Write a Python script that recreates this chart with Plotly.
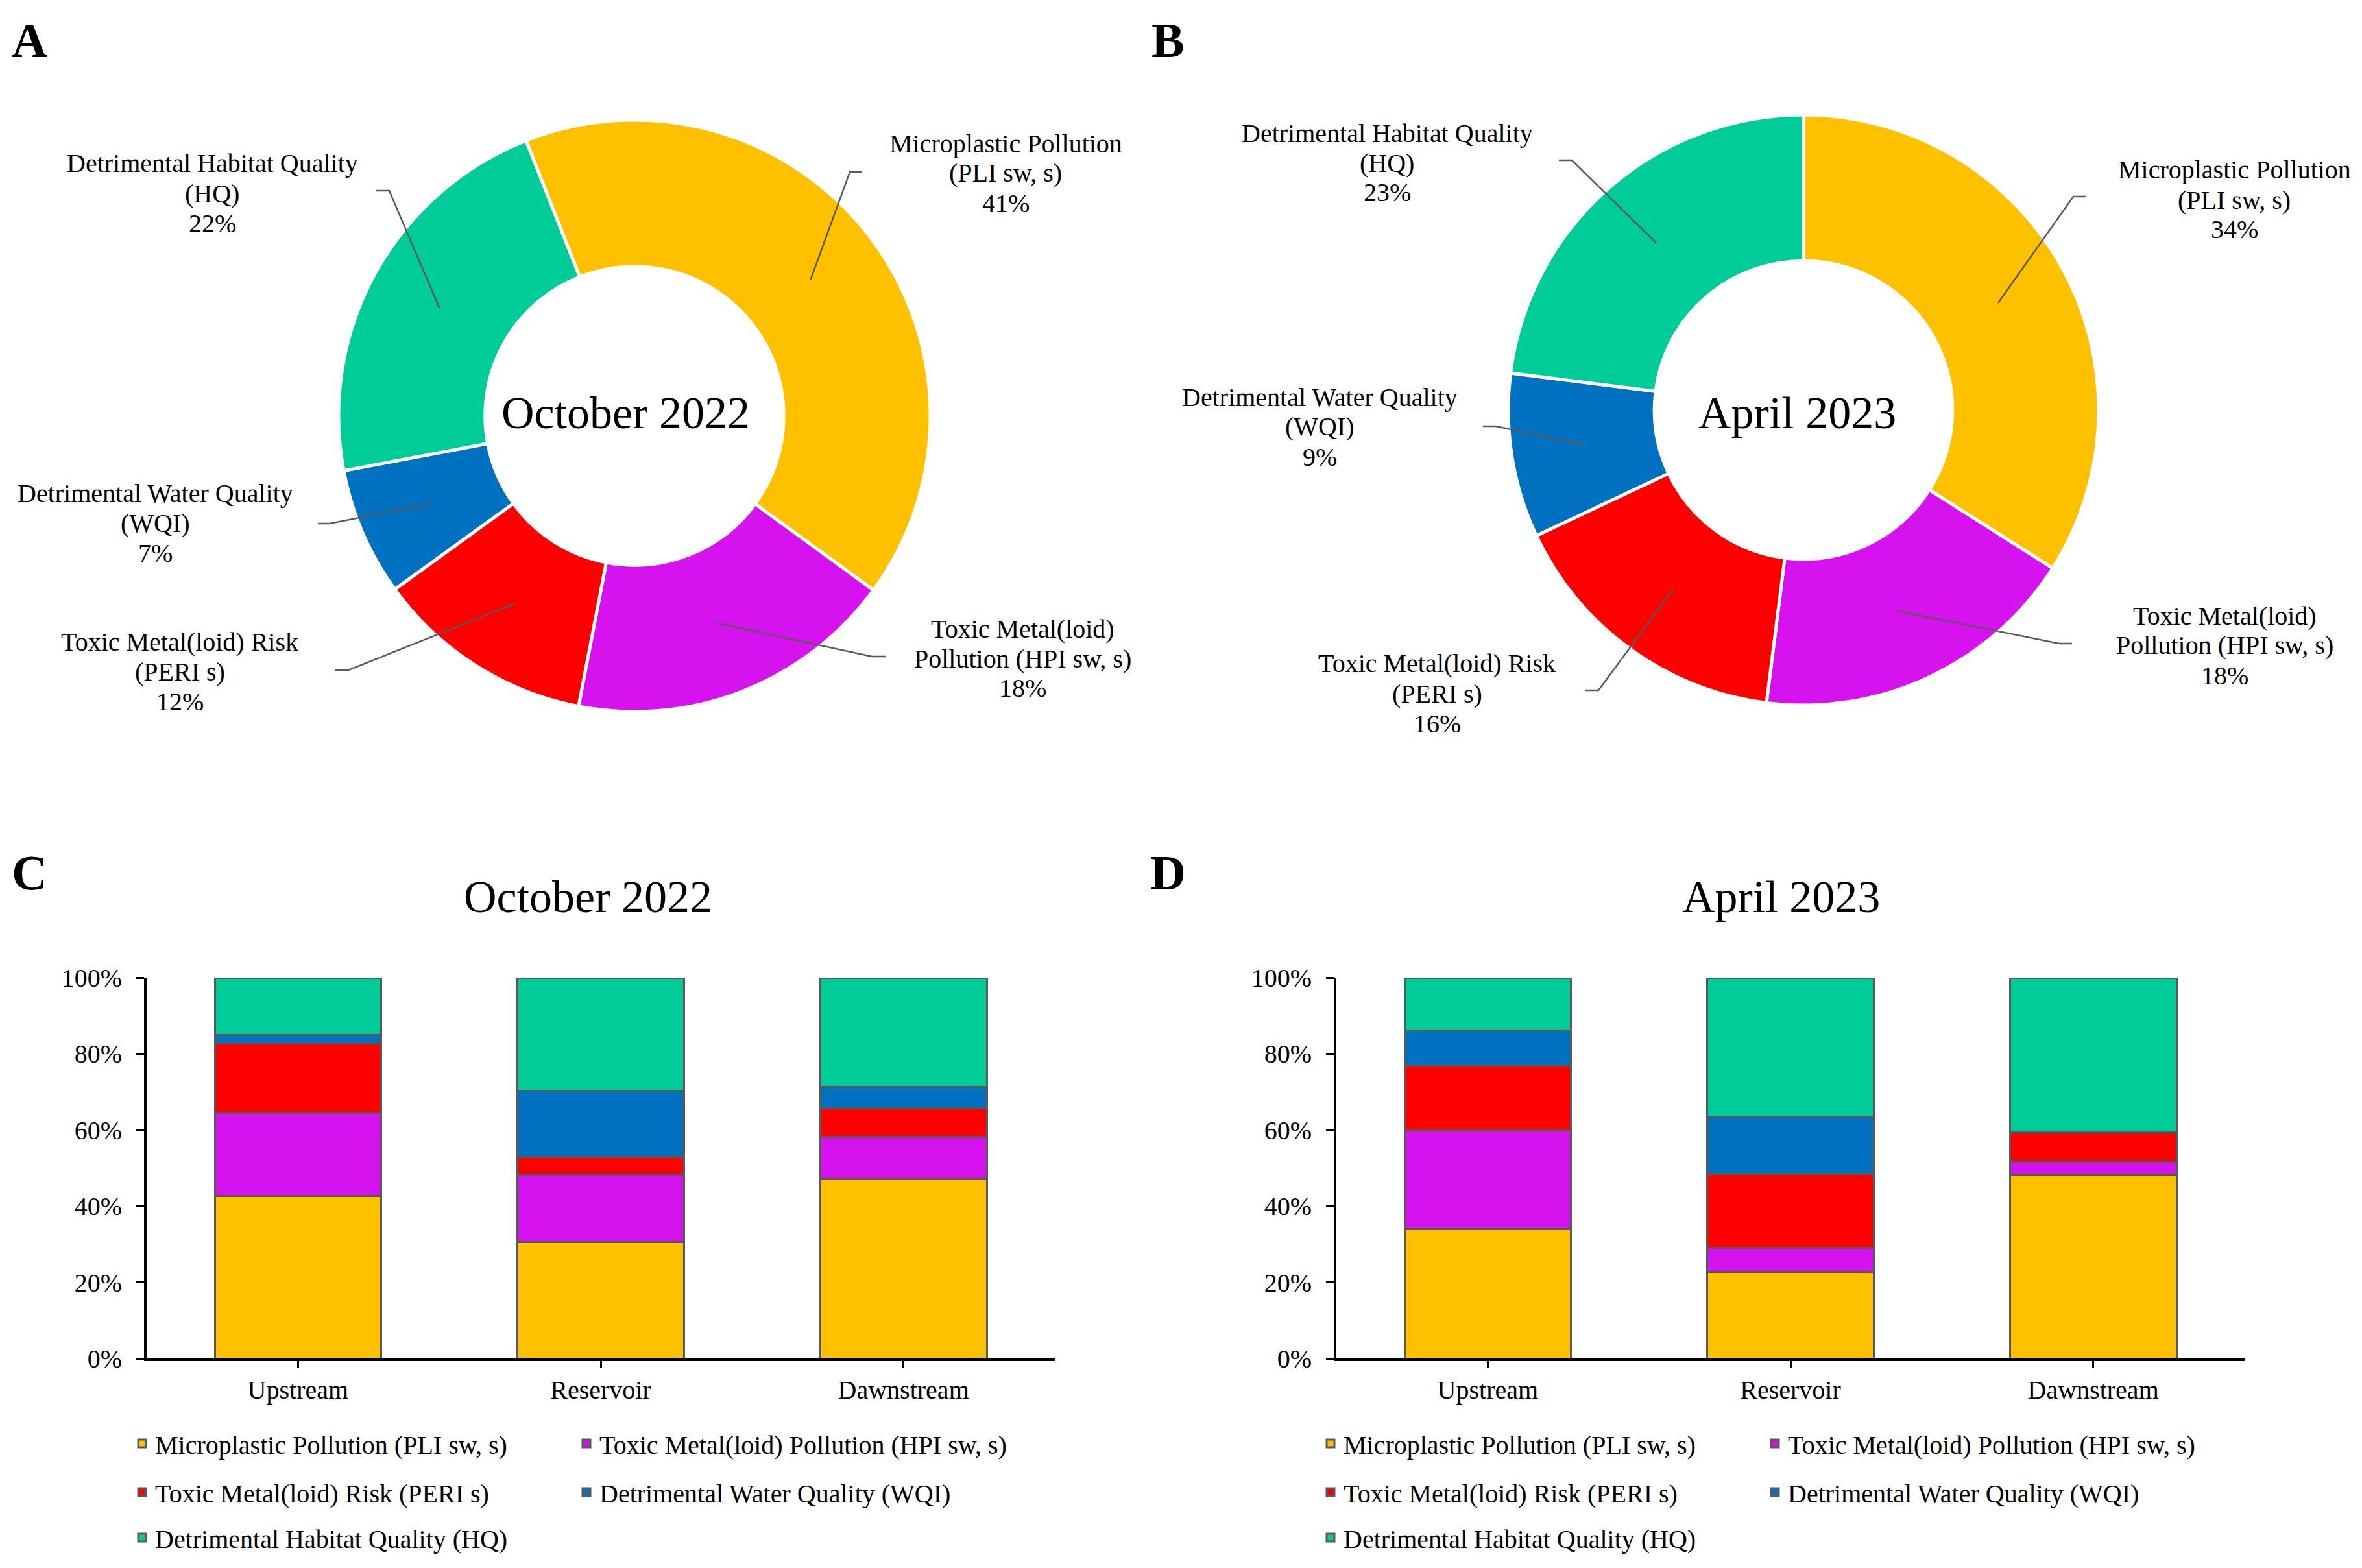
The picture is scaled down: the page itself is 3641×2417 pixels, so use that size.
import math
import plotly.graph_objects as go

W, H = 3641, 2417
OFF = 8  # page body margin in the browser
FONT = "Liberation Serif"

# ---------------- data ----------------
series = [
    "Microplastic Pollution (PLI sw, s)",
    "Toxic Metal(loid) Pollution (HPI sw, s)",
    "Toxic Metal(loid) Risk (PERI s)",
    "Detrimental Water Quality (WQI)",
    "Detrimental Habitat Quality (HQ)",
]
pie_label_lines = [
    ["Microplastic Pollution", "(PLI sw, s)"],
    ["Toxic Metal(loid)", "Pollution (HPI sw, s)"],
    ["Toxic Metal(loid) Risk", "(PERI s)"],
    ["Detrimental Water Quality", "(WQI)"],
    ["Detrimental Habitat Quality", "(HQ)"],
]
colors = ["#FFC000", "#D612EE", "#FF0000", "#0070C0", "#00CC99"]

pie_oct_2022 = [41, 18, 12, 7, 22]
pie_apr_2023 = [34, 18, 16, 9, 23]

sites = ["Upstream", "Reservoir", "Dawnstream"]
oct_micro = [42.6, 30.6, 47.1]
oct_hpi = [21.8, 17.7, 11.0]
oct_peri = [18.3, 4.6, 7.5]
oct_wqi = [2.3, 17.3, 5.7]
oct_hq = [15.0, 29.8, 28.7]

apr_micro = [34.0, 22.7, 48.3]
apr_hpi = [25.9, 6.3, 3.4]
apr_peri = [17.1, 19.4, 7.6]
apr_wqi = [9.2, 15.1, 0.0]
apr_hq = [13.8, 36.5, 40.7]

oct_bars = [oct_micro, oct_hpi, oct_peri, oct_wqi, oct_hq]
apr_bars = [apr_micro, apr_hpi, apr_peri, apr_wqi, apr_hq]


def px(x):
    return (x - OFF) / W


def py(y):
    return 1 - (y - OFF) / H


fig = go.Figure()
annotations = []
shapes = []

# ---------------- donuts ----------------
HOLE = 0.505
LINE_GAP = 46
pies = [
    dict(vals=pie_oct_2022, cx=978, cy=641, r=456, rot=-21.5, center="October 2022", ctext=(965, 637),
         text_pos=[(1550, 267), (1576, 1015), (277, 1035), (239, 806), (327, 298)],
         elbows=[((1329, 265), (1310, 265)), ((1365, 1012), (1344, 1012)), ((516, 1033), (537, 1033)),
                 ((490, 807), (508, 807)), ((580, 294), (600, 294))]),
    dict(vals=pie_apr_2023, cx=2780, cy=632, r=455, rot=0, center="April 2023", ctext=(2770, 637),
         text_pos=[(3444, 308), (3429, 995), (2215, 1069), (2035, 658), (2138, 251)],
         elbows=[((3215, 303), (3196, 303)), ((3194, 992), (3174, 992)), ((2444, 1064), (2464, 1064)),
                 ((2286, 657), (2306, 657)), ((2403, 247), (2423, 247))]),
]

for p in pies:
    cx, cy, r = p["cx"], p["cy"], p["r"]
    fig.add_trace(go.Pie(
        labels=series, values=p["vals"], sort=False, direction="clockwise", rotation=p["rot"],
        hole=HOLE, textinfo="none", showlegend=False,
        marker=dict(colors=colors, line=dict(color="white", width=5)),
        domain=dict(x=[px(cx - r), px(cx + r)], y=[py(cy + r), py(cy - r)]),
    ))
    total = sum(p["vals"])
    cum = 0
    rm = r * (1 + HOLE) / 2
    for i, v in enumerate(p["vals"]):
        a = math.radians(p["rot"] + (cum + v / 2) / total * 360)
        cum += v
        sx = cx + rm * math.sin(a)
        sy = cy - rm * math.cos(a)
        (p1x, p1y), (ex, ey) = p["elbows"][i]
        shapes.append(dict(
            type="path", xref="paper", yref="paper",
            path=f"M {px(p1x)} {py(p1y)} L {px(ex)} {py(ey)} L {px(sx)} {py(sy)}",
            line=dict(color="#595959", width=2.5),
        ))
        tx, ty = p["text_pos"][i]
        lines = pie_label_lines[i] + [f"{v}%"]
        n = len(lines)
        for k, ln in enumerate(lines):
            annotations.append(dict(
                x=px(tx), y=py(ty + (k - (n - 1) / 2) * LINE_GAP), xref="paper", yref="paper",
                showarrow=False, text=ln, align="center",
                xanchor="center", yanchor="middle",
                font=dict(family=FONT, size=40, color="black"),
            ))
    annotations.append(dict(
        x=px(p["ctext"][0]), y=py(p["ctext"][1]), xref="paper", yref="paper", showarrow=False,
        text=p["center"], xanchor="center", yanchor="middle",
        font=dict(family=FONT, size=70, color="black"),
    ))

# ---------------- stacked bars ----------------
bar_panels = [
    dict(data=oct_bars, xa="x", ya="y", legends=["legend", "legend", "legend2", "legend2", "legend3"]),
    dict(data=apr_bars, xa="x2", ya="y2", legends=["legend4", "legend4", "legend5", "legend5", "legend6"]),
]
for bp in bar_panels:
    for i, vals in enumerate(bp["data"]):
        fig.add_trace(go.Bar(
            x=sites, y=vals, name=series[i], xaxis=bp["xa"], yaxis=bp["ya"],
            width=0.55, legend=bp["legends"][i],
            marker=dict(color=colors[i], line=dict(color="#595959", width=3)),
        ))

axis_common = dict(showline=True, linecolor="black", linewidth=4, ticks="outside",
                   tickcolor="black", tickwidth=3, showgrid=False, zeroline=False,
                   tickfont=dict(family=FONT, size=40, color="black"))
ydom = [py(2094), py(1507)]

fig.update_layout(
    xaxis=dict(domain=[px(226), px(1626)], anchor="y", ticklen=10, ticklabelstandoff=0, **axis_common),
    yaxis=dict(domain=ydom, anchor="x", range=[0, 100], dtick=20, ticksuffix="%", ticklen=12,
               ticklabelstandoff=14, **axis_common),
    xaxis2=dict(domain=[px(2060), px(3460)], anchor="y2", ticklen=10, ticklabelstandoff=0, **axis_common),
    yaxis2=dict(domain=ydom, anchor="x2", range=[0, 100], dtick=20, ticksuffix="%", ticklen=12,
                ticklabelstandoff=14, **axis_common),
)

# legends: one per row, two columns
leg_rows_y = [2225, 2300, 2370]
leg_x = {"C": 199, "D": 2031}
leg_common = dict(orientation="h", xanchor="left", yanchor="middle", bgcolor="rgba(0,0,0,0)",
                  font=dict(family=FONT, size=40, color="black"), entrywidth=640,
                  entrywidthmode="pixels", itemwidth=30, tracegroupgap=0, traceorder="normal")
fig.update_layout(
    legend=dict(x=px(leg_x["C"]), y=py(leg_rows_y[0]), **leg_common),
    legend2=dict(x=px(leg_x["C"]), y=py(leg_rows_y[1]), **leg_common),
    legend3=dict(x=px(leg_x["C"]), y=py(leg_rows_y[2]), **leg_common),
    legend4=dict(x=px(leg_x["D"]), y=py(leg_rows_y[0]), **leg_common),
    legend5=dict(x=px(leg_x["D"]), y=py(leg_rows_y[1]), **leg_common),
    legend6=dict(x=px(leg_x["D"]), y=py(leg_rows_y[2]), **leg_common),
)

# titles for bar panels
for txt, (tx, ty) in [("October 2022", (906, 1382)), ("April 2023", (2745, 1382))]:
    annotations.append(dict(x=px(tx), y=py(ty), xref="paper", yref="paper", showarrow=False,
                            text=txt, xanchor="center", yanchor="middle",
                            font=dict(family=FONT, size=70, color="black")))

# panel letters
for txt, (tx, ty) in [("A", (45, 62)), ("B", (1800, 62)), ("C", (45, 1345)), ("D", (1800, 1345))]:
    annotations.append(dict(x=px(tx), y=py(ty), xref="paper", yref="paper", showarrow=False,
                            text=f"<b>{txt}</b>", xanchor="center", yanchor="middle",
                            font=dict(family=FONT, size=76, color="black")))

fig.update_layout(
    width=W, height=H, template="none", barmode="stack",
    margin=dict(l=0, r=0, t=0, b=0, autoexpand=False),
    paper_bgcolor="white", plot_bgcolor="white",
    annotations=annotations, shapes=shapes,
    font=dict(family=FONT, color="black"),
)

fig.write_html("out.html")
